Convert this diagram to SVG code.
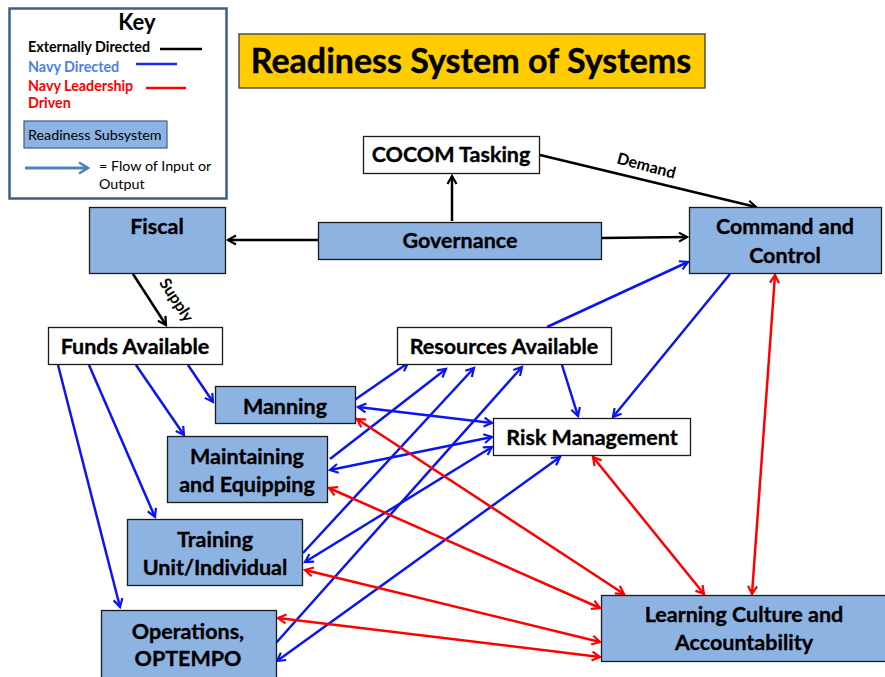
<svg xmlns="http://www.w3.org/2000/svg" width="885" height="677" viewBox="0 0 885 677">
  <defs>
    <marker id="ahBlack" markerWidth="12" markerHeight="12" refX="9" refY="6" orient="auto-start-reverse" markerUnits="userSpaceOnUse">
      <path d="M1,1.5 L9,6 L1,10.5" fill="none" stroke="#000" stroke-width="2.2"/>
    </marker>
    <marker id="ahBlue" markerWidth="12" markerHeight="12" refX="9" refY="6" orient="auto-start-reverse" markerUnits="userSpaceOnUse">
      <path d="M1,1.5 L9,6 L1,10.5" fill="none" stroke="#0a14f5" stroke-width="2.2"/>
    </marker>
    <marker id="ahRed" markerWidth="12" markerHeight="12" refX="9" refY="6" orient="auto-start-reverse" markerUnits="userSpaceOnUse">
      <path d="M1,1.5 L9,6 L1,10.5" fill="none" stroke="#ff0000" stroke-width="2.2"/>
    </marker>
    <marker id="ahSteel" markerWidth="14" markerHeight="14" refX="10" refY="7" orient="auto" markerUnits="userSpaceOnUse">
      <path d="M1,1.5 L10,7 L1,12.5" fill="none" stroke="#4f81bd" stroke-width="2.6"/>
    </marker>
  </defs>
  <style>
    text { font-family: Lato, "Liberation Sans", sans-serif; }
    .lbl { font-weight: bold; font-size: 21.5px; fill: #000; stroke: #000; stroke-width: 0.35; text-anchor: middle; }
    .sub { fill: #8db3e2; stroke: #1a1a1a; stroke-width: 1.3; }
    .plain { fill: #ffffff; stroke: #1a1a1a; stroke-width: 1.3; }
    .ext { stroke: #000; stroke-width: 2.5; fill: none; marker-end: url(#ahBlack); }
    .navy { stroke: #0a14f5; stroke-width: 2.5; fill: none; marker-end: url(#ahBlue); }
    .navy2 { stroke: #0a14f5; stroke-width: 2.5; fill: none; marker-start: url(#ahBlue); marker-end: url(#ahBlue); }
    .lead2 { stroke: #ff0000; stroke-width: 2.5; fill: none; marker-start: url(#ahRed); marker-end: url(#ahRed); }
    .edgeLbl { font-weight: bold; font-size: 16px; fill: #000; text-anchor: middle; }
    .keyTxt { font-size: 14.3px; }
  </style>

  <rect width="885" height="677" fill="#ffffff"/>

  <!-- Legend -->
  <g id="key">
    <rect x="9.5" y="8.5" width="217" height="190" fill="#ffffff" stroke="#3d5e8f" stroke-width="2.5"/>
    <text x="137" y="30" font-size="22" font-weight="bold" text-anchor="middle">Key</text>
    <text class="keyTxt" x="28" y="52" font-weight="bold" fill="#000">Externally Directed</text>
    <line x1="160" y1="49" x2="202" y2="49" stroke="#000" stroke-width="2.5"/>
    <text class="keyTxt" x="28" y="72" font-weight="bold" fill="#4a7ff0">Navy Directed</text>
    <line x1="136" y1="64" x2="177" y2="64" stroke="#1a2af0" stroke-width="2.5"/>
    <text class="keyTxt" x="28" y="91" font-weight="bold" fill="#ff0000">Navy Leadership</text>
    <line x1="146" y1="88" x2="186" y2="88" stroke="#ff0000" stroke-width="2.5"/>
    <text class="keyTxt" x="28" y="108" font-weight="bold" fill="#ff0000">Driven</text>
    <rect x="24" y="121" width="143" height="27" fill="#8db3e2" stroke="#3d5e8f" stroke-width="1.2"/>
    <text class="keyTxt" x="28" y="140" fill="#000">Readiness Subsystem</text>
    <line x1="25" y1="168" x2="88" y2="168" stroke="#4f81bd" stroke-width="2.8" marker-end="url(#ahSteel)"/>
    <text class="keyTxt" x="99" y="171" fill="#000">= Flow of Input or</text>
    <text class="keyTxt" x="99" y="189" fill="#000">Output</text>
  </g>

  <!-- Title banner -->
  <g id="title">
    <rect x="239" y="34" width="466" height="54" fill="#ffcc00" stroke="#3a3a3a" stroke-width="1.3"/>
    <text x="471" y="73" font-size="34" font-weight="bold" stroke="#000" stroke-width="0.4" text-anchor="middle">Readiness System of Systems</text>
  </g>

  <!-- Connectors -->
  <g id="connectors">
    <!-- externally directed -->
    <line class="ext" x1="318" y1="240" x2="228" y2="240"/>
    <line class="ext" x1="602" y1="238" x2="687" y2="237"/>
    <line class="ext" x1="452" y1="221" x2="452" y2="176"/>
    <line class="ext" x1="540" y1="155" x2="756" y2="207"/>
    <line class="ext" x1="133" y1="274" x2="166" y2="325"/>
    <text class="edgeLbl" transform="translate(645,171) rotate(15)">Demand</text>
    <text class="edgeLbl" transform="translate(172,303) rotate(57)">Supply</text>

    <!-- navy directed -->
    <line class="navy" x1="58" y1="365" x2="120" y2="607"/>
    <line class="navy" x1="89" y1="365" x2="155" y2="517"/>
    <line class="navy" x1="136" y1="365" x2="184" y2="435"/>
    <line class="navy" x1="188" y1="365" x2="213" y2="402"/>
    <line class="navy" x1="547" y1="327" x2="688" y2="262"/>
    <line class="navy" x1="730" y1="274" x2="613" y2="417"/>
    <line class="navy" x1="562" y1="365" x2="578" y2="416"/>
    <line class="navy" x1="353" y1="401" x2="408" y2="363"/>
    <line class="navy2" x1="358" y1="407" x2="492" y2="423"/>
    <line class="navy" x1="330" y1="459" x2="446" y2="369"/>
    <line class="navy2" x1="492" y1="437" x2="330" y2="470"/>
    <line class="navy" x1="303" y1="553" x2="474" y2="368"/>
    <line class="navy2" x1="492" y1="447" x2="305" y2="562"/>
    <line class="navy" x1="276" y1="643" x2="522" y2="367"/>
    <line class="navy2" x1="560" y1="457" x2="277" y2="661"/>

    <!-- navy leadership driven -->
    <line class="lead2" x1="775" y1="275" x2="752" y2="594"/>
    <line class="lead2" x1="593" y1="457" x2="704" y2="594"/>
    <line class="lead2" x1="357" y1="419" x2="624" y2="594"/>
    <line class="lead2" x1="329" y1="488" x2="600" y2="608"/>
    <line class="lead2" x1="305" y1="570" x2="600" y2="642"/>
    <line class="lead2" x1="278" y1="618" x2="600" y2="657"/>
  </g>

  <!-- Nodes -->
  <g id="cocom">
    <rect class="plain" x="363.5" y="136.5" width="176" height="37"/>
    <text class="lbl" x="451" y="162">COCOM Tasking</text>
  </g>
  <g id="governance">
    <rect class="sub" x="318.5" y="222.5" width="283" height="37"/>
    <text class="lbl" x="460" y="248">Governance</text>
  </g>
  <g id="fiscal">
    <rect class="sub" x="89.5" y="207.5" width="136" height="66"/>
    <text class="lbl" x="157" y="234">Fiscal</text>
  </g>
  <g id="command-control">
    <rect class="sub" x="689.5" y="207.5" width="192" height="66"/>
    <text class="lbl" x="785" y="234">Command and</text>
    <text class="lbl" x="785" y="263">Control</text>
  </g>
  <g id="funds">
    <rect class="plain" x="48.5" y="327.5" width="174" height="37"/>
    <text class="lbl" x="135" y="354">Funds Available</text>
  </g>
  <g id="resources">
    <rect class="plain" x="397.5" y="327.5" width="214" height="37"/>
    <text class="lbl" x="504" y="354">Resources Available</text>
  </g>
  <g id="manning">
    <rect class="sub" x="215.5" y="386.5" width="140" height="37"/>
    <text class="lbl" x="285" y="414">Manning</text>
  </g>
  <g id="risk">
    <rect class="plain" x="493.5" y="418.5" width="197" height="37"/>
    <text class="lbl" x="592" y="445">Risk Management</text>
  </g>
  <g id="maintaining">
    <rect class="sub" x="167.5" y="436.5" width="160" height="66"/>
    <text class="lbl" x="247" y="464">Maintaining</text>
    <text class="lbl" x="247" y="492">and Equipping</text>
  </g>
  <g id="training">
    <rect class="sub" x="127.5" y="519.5" width="175" height="66"/>
    <text class="lbl" x="215" y="547">Training</text>
    <text class="lbl" x="215" y="575">Unit/Individual</text>
  </g>
  <g id="operations">
    <rect class="sub" x="101.5" y="610.5" width="175" height="80"/>
    <text class="lbl" x="188" y="639">Operations,</text>
    <text class="lbl" x="188" y="666">OPTEMPO</text>
  </g>
  <g id="learning">
    <rect class="sub" x="601.5" y="595.5" width="295" height="66"/>
    <text class="lbl" x="744" y="622">Learning Culture and</text>
    <text class="lbl" x="744" y="650">Accountability</text>
  </g>
</svg>
